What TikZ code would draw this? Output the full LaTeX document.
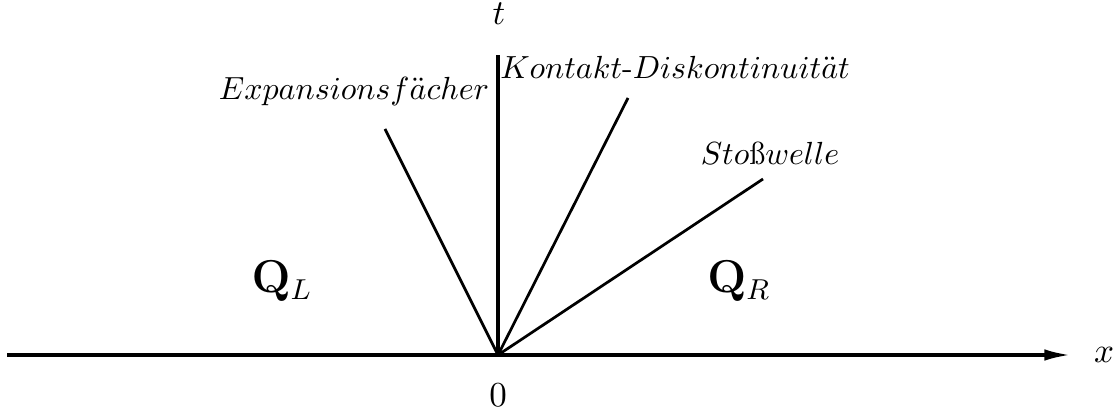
\documentclass[tikz,border=0pt]{standalone}
\usetikzlibrary{arrows.meta}
\begin{document}
\begin{tikzpicture}[x=0.3125pt,y=-0.3125pt,
  wave/.style={line width=0.85pt},
  axis/.style={line width=0.95pt},
  lbl/.style={anchor=base,inner sep=0pt,font=\normalsize},
  axlbl/.style={anchor=base,inner sep=0pt,font=\fontsize{11}{13}\selectfont},
  state/.style={anchor=base,inner sep=0pt,font=\fontsize{13.5}{16}\selectfont}]
\useasboundingbox (0,0) rectangle (1114,415);
\coordinate (O) at (498,355);
\coordinate (xs) at (7,355);
\coordinate (xe) at (1070,355);
\coordinate (te) at (498,55);
\coordinate (fan) at (385,129);
\coordinate (cd) at (628,98);
\coordinate (sw) at (763,179);
\draw[axis,-{Latex[length=8pt,width=3.6pt]}] (xs) -- (xe);
\draw[axis] (O) -- (te);
\draw[wave] (O) -- (fan);
\draw[wave] (O) -- (cd);
\draw[wave] (O) -- (sw);
\node[axlbl] (tl) at (499,25) {$t$};
\node[axlbl] (xl) at (1104,362) {$x$};
\node[axlbl] (zl) at (498,406) {$0$};
\node[lbl] (fanl) at (354,100) {$Expansionsf\ddot{a}cher$};
\node[lbl] (cdl) at (675,79) {$Kontakt$-$Diskontinuit\ddot{a}t$};
\node[lbl] (swl) at (770,165) {$Sto$\ss$welle$};
\node[state] (ql) at (282,293) {$\mathbf{Q}_L$};
\node[state] (qr) at (739,293) {$\mathbf{Q}_R$};
\end{tikzpicture}
\end{document}
